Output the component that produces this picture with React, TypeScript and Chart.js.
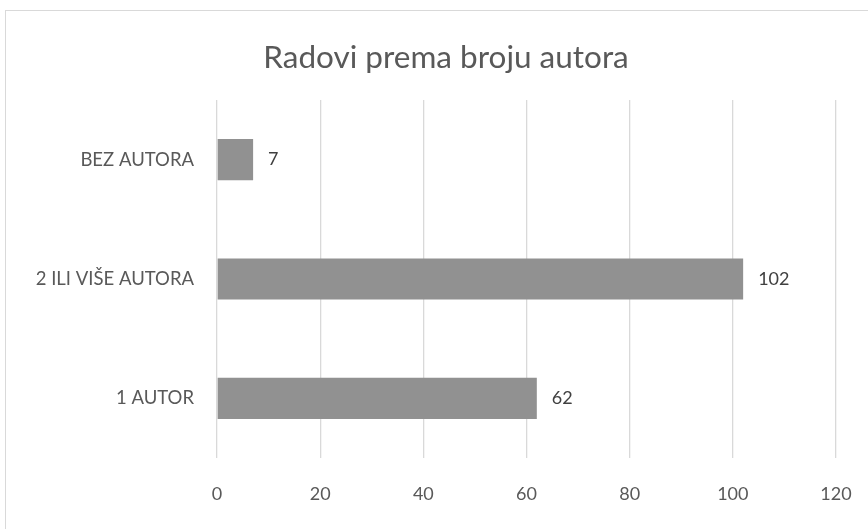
import React, { useEffect, useRef } from "react";
import { Chart, registerables } from "chart.js";

Chart.register(...registerables);

const chartTitle = "Radovi prema broju autora";
const categories = ["BEZ AUTORA", "2 ILI VIŠE AUTORA", "1 AUTOR"];
const values = [7, 102, 62];
const xMin = 0;
const xMax = 120;
const xStep = 20;

const FONT = "Lato, 'Open Sans', sans-serif";

const titlePlugin = {
  id: "customTitle",
  afterDraw(chart: any) {
    const ctx = chart.ctx;
    ctx.save();
    ctx.font = `31.5px ${FONT}`;
    ctx.fillStyle = "#595959";
    ctx.textAlign = "center";
    ctx.textBaseline = "middle";
    ctx.fillText(chartTitle, 446, 58);
    ctx.restore();
  },
};

const valueLabelPlugin = {
  id: "valueLabels",
  afterDatasetsDraw(chart: any) {
    const ctx = chart.ctx;
    const meta = chart.getDatasetMeta(0);
    ctx.save();
    ctx.font = `18px ${FONT}`;
    ctx.fillStyle = "#404040";
    ctx.textAlign = "left";
    ctx.textBaseline = "middle";
    meta.data.forEach((bar: any, i: number) => {
      ctx.fillText(String(chart.data.datasets[0].data[i]), bar.x + 15, bar.y);
    });
    ctx.restore();
  },
};

export default function App() {
  const ref = useRef<HTMLCanvasElement>(null);
  useEffect(() => {
    if (!ref.current) return;
    const chart = new Chart(ref.current, {
      type: "bar",
      data: {
        labels: categories,
        datasets: [
          {
            data: values,
            backgroundColor: "#919191",
            borderWidth: 0,
            barPercentage: 0.345,
            categoryPercentage: 1,
          },
        ],
      },
      options: {
        indexAxis: "y",
        animation: false,
        responsive: false,
        maintainAspectRatio: false,
        layout: { padding: { left: 0, top: 100, right: 32, bottom: 0 } },
        plugins: {
          legend: { display: false },
          title: { display: false },
          tooltip: { enabled: false },
        },
        scales: {
          x: {
            min: xMin,
            max: xMax,
            ticks: {
              stepSize: xStep,
              color: "#595959",
              font: { family: FONT, size: 18 },
              padding: 25,
            },
            grid: { color: "#d9d9d9", lineWidth: 1.3, drawTicks: false },
            border: { display: false },
            afterFit: (s: any) => {
              s.height = 71;
              s.paddingLeft = 0;
              s.paddingRight = 0;
            },
          },
          y: {
            ticks: {
              color: "#595959",
              font: { family: FONT, size: 18.5 },
              padding: 23,
            },
            grid: { display: false, drawTicks: false },
            border: { display: false },
            afterFit: (s: any) => {
              s.width = 217;
              s.paddingTop = 0;
              s.paddingBottom = 0;
            },
          },
        },
      },
      plugins: [titlePlugin, valueLabelPlugin],
    });
    return () => chart.destroy();
  }, []);

  return (
    <div
      style={{
        position: "fixed",
        left: 0,
        top: 0,
        width: 868,
        height: 529,
        overflow: "hidden",
        background: "#ffffff",
      }}
    >
      <div
        style={{
          position: "absolute",
          left: 5,
          top: 10,
          width: 900,
          height: 560,
          border: "1px solid #d9d9d9",
          boxSizing: "border-box",
        }}
      />
      <canvas
        ref={ref}
        width={868}
        height={529}
        style={{ position: "absolute", left: 0, top: 0, width: 868, height: 529 }}
      />
    </div>
  );
}
